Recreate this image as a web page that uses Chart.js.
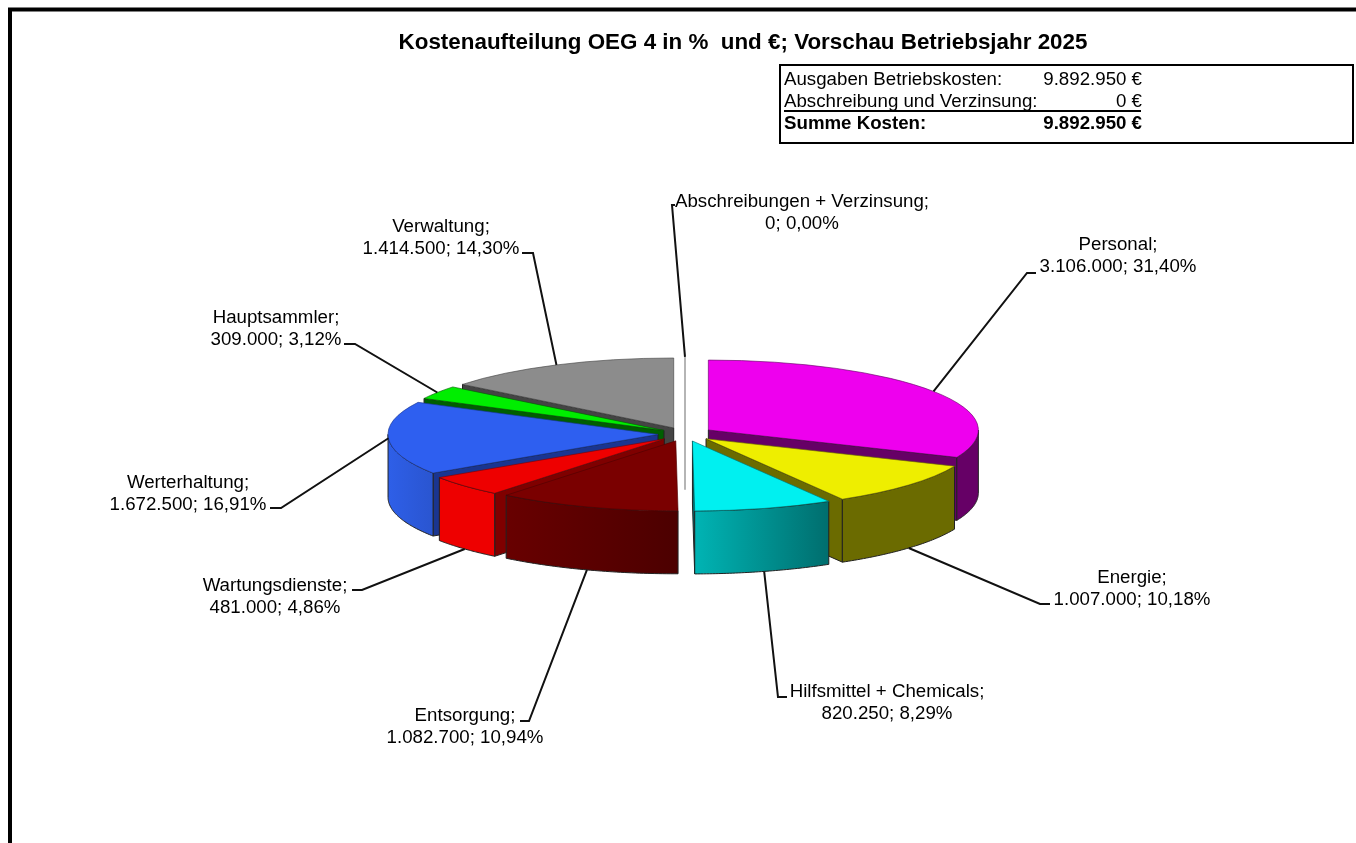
<!DOCTYPE html>
<html><head><meta charset="utf-8">
<style>html,body{margin:0;padding:0;background:#fff;overflow:hidden}canvas{display:block}</style>
<script src="https://cdn.jsdelivr.net/npm/chart.js@4/dist/chart.umd.min.js"></script>
</head><body><canvas id="c" width="1356" height="843"></canvas>
<script>
// --- data ---
const titleText = 'Kostenaufteilung OEG 4 in %  und €; Vorschau Betriebsjahr 2025';
const categories = ['Personal','Energie','Hilfsmittel + Chemicals','Entsorgung','Wartungsdienste','Werterhaltung','Hauptsammler','Verwaltung','Abschreibungen + Verzinsung'];
const costs = [3106000,1007000,820250,1082700,481000,1672500,309000,1414500,0];
const summaryLabels = ['Ausgaben Betriebskosten:','Abschreibung und Verzinsung:','Summe Kosten:'];
const summaryValues = ['9.892.950 €','0 €','9.892.950 €'];
// --- styles ---
const topColors  = ['#EE00EE','#EEEE00','#00F0F0','#7A0000','#EE0000','#2E5FF0','#00EE00','#8C8C8C','#B5B5B5'];
const edgeColors = ['#660066','#6B6B00','#007070','#500000','#7F0000','#1A3590','#005F00','#444444','#B5B5B5'];
const wallFrom   = ['#660066','#6B6B00','#00B4B4','#680000','#EE0000','#2E5FE8','#005F00','#444444','#B5B5B5'];
const wallTo     = ['#660066','#6B6B00','#006E6E','#4C0000','#EE0000','#2A55D0','#005F00','#444444','#B5B5B5'];
// --- layout ---
const PIE = {x:685, y:434, tilt:0.259, depth:63};
const explode = [28,28,28,28,28,27,25,26,28];
const labelPos = [[1118,245],[1132,578],[887,692],[465,716],[275,586],[188,483],[276,318],[441,227],[802,202]];
const elbows = [
 [[1027,273],[1036,273]],[[1040,604],[1050,604]],[[778,697],[787,697]],[[529,721],[520,721]],
 [[362,590],[352,590]],[[281,508],[270,508]],[[355,344],[344,344]],[[533,253],[522,253]],[[672,205],[675,205]]];
const summaryY = [80,102,123.5];
const FONT = '"Liberation Sans", Arial, sans-serif';

const total = costs.reduce((a,b)=>a+b,0);
const fmtInt = v => new Intl.NumberFormat('de-DE').format(v);
const fmtPct = v => (v/total*100).toFixed(2).replace('.',',');

function geo(el,i){
  const mid=(el.startAngle+el.endAngle)/2;
  const ox=Math.cos(mid)*explode[i], oy=Math.sin(mid)*explode[i];
  return {
    mid, ox, oy,
    pt:(a,r,d)=>({x:PIE.x+ox+r*Math.cos(a), y:PIE.y+PIE.tilt*(oy+r*Math.sin(a))+(d||0)})
  };
}
function quad(ctx,p,fill,stroke){
  ctx.beginPath();ctx.moveTo(p[0].x,p[0].y);
  for(let i=1;i<p.length;i++)ctx.lineTo(p[i].x,p[i].y);
  ctx.closePath();ctx.fillStyle=fill;ctx.fill();
  ctx.strokeStyle=stroke;ctx.lineWidth=1;ctx.stroke();
}
function drawSlice(chart,el,i){
  const ctx=chart.ctx, g=geo(el,i), R=el.outerRadius, D=PIE.depth;
  const a0=el.startAngle, a1=el.endAngle;
  if(a1-a0<1e-6){ // zero-value slice seen edge-on
    const top=g.pt(a0,R), bot=g.pt(a0,0,D);
    ctx.beginPath();ctx.moveTo(top.x,top.y);ctx.lineTo(bot.x,bot.y);
    ctx.strokeStyle=topColors[i];ctx.lineWidth=2;ctx.stroke();return;
  }
  const radial=a=>{
    const c=g.pt(a,0), r=g.pt(a,R);
    quad(ctx,[c,r,{x:r.x,y:r.y+D},{x:c.x,y:c.y+D}],edgeColors[i],'#222');
  };
  if(Math.cos(a0)<-1e-3) radial(a0);
  if(Math.cos(a1)>1e-3) radial(a1);
  // outer wall: the front half of the rim only
  const s=Math.max(a0,0), e=Math.min(a1,Math.PI);
  if(e>s){
    const N=48, up=[], dn=[];
    for(let k=0;k<=N;k++){
      const a=s+(e-s)*k/N;
      up.push(g.pt(a,R)); dn.unshift(g.pt(a,R,D));
    }
    const xs=up.map(p=>p.x), lo=Math.min(...xs), hi=Math.max(...xs);
    const gr=ctx.createLinearGradient(lo,0,hi,0);
    gr.addColorStop(0,wallFrom[i]);gr.addColorStop(1,wallTo[i]);
    quad(ctx,up.concat(dn),gr,'#222');
  }
  // top face through the library's own arc element
  ctx.save();
  ctx.translate(PIE.x-el.x+g.ox, PIE.y);
  ctx.scale(1,PIE.tilt);
  ctx.translate(0,-el.y+g.oy);
  el.draw(ctx);
  ctx.restore();
}
const pie3d={
  id:'pie3d',
  beforeDatasetsDraw(chart){
    const arcs=chart.getDatasetMeta(0).data;
    const m=el=>(el.startAngle+el.endAngle)/2;
    const order=arcs.map((el,i)=>i).sort((p,q)=>Math.sin(m(arcs[p]))-Math.sin(m(arcs[q])));
    order.forEach(i=>drawSlice(chart,arcs[i],i));
    return false;
  },
  afterDraw(chart){
    const ctx=chart.ctx, arcs=chart.getDatasetMeta(0).data;
    // leaders
    ctx.strokeStyle='#111';ctx.lineWidth=2;ctx.lineJoin='miter';
    arcs.forEach((el,i)=>{
      const g=geo(el,i), front=Math.sin(g.mid)>0.3;
      const p=g.pt(g.mid,el.outerRadius,front?PIE.depth:0);
      ctx.beginPath();ctx.moveTo(p.x,p.y);
      elbows[i].forEach(q=>ctx.lineTo(q[0],q[1]));
      ctx.stroke();
    });
    // data labels
    ctx.fillStyle='#000';ctx.textAlign='center';ctx.textBaseline='middle';
    ctx.font='18.7px '+FONT;
    categories.forEach((name,i)=>{
      const [x,y]=labelPos[i];
      ctx.fillText(name+';',x,y);
      ctx.fillText(fmtInt(costs[i])+'; '+fmtPct(costs[i])+'%',x,y+21.5);
    });
    // title
    ctx.font='bold 22.4px '+FONT;
    ctx.fillText(titleText,743,43);
    // summary box
    ctx.strokeStyle='#000';ctx.lineWidth=2;ctx.strokeRect(780,65,573,78);
    summaryLabels.forEach((t,i)=>{
      const y=summaryY[i];
      ctx.font=(i===2?'bold ':'')+'18.7px '+FONT;
      ctx.textAlign='left';ctx.fillText(t,784,y);
      ctx.textAlign='right';ctx.fillText(summaryValues[i],1142,y);
    });
    ctx.lineWidth=2;ctx.beginPath();ctx.moveTo(784,111);ctx.lineTo(1141,111);ctx.stroke();
    // page frame
    ctx.strokeStyle='#000';ctx.lineWidth=4;
    ctx.beginPath();ctx.moveTo(10,860);ctx.lineTo(10,9.5);ctx.lineTo(1370,9.5);ctx.stroke();
  }
};
new Chart(document.getElementById('c'),{
  type:'pie',
  data:{labels:categories,datasets:[{data:costs,backgroundColor:topColors,borderColor:edgeColors,borderWidth:1}]},
  options:{
    responsive:false,animation:false,
    layout:{padding:{left:14,right:0,top:151,bottom:151}},
    plugins:{legend:{display:false},tooltip:{enabled:false},title:{display:false}}
  },
  plugins:[pie3d]
});
</script></body></html>
